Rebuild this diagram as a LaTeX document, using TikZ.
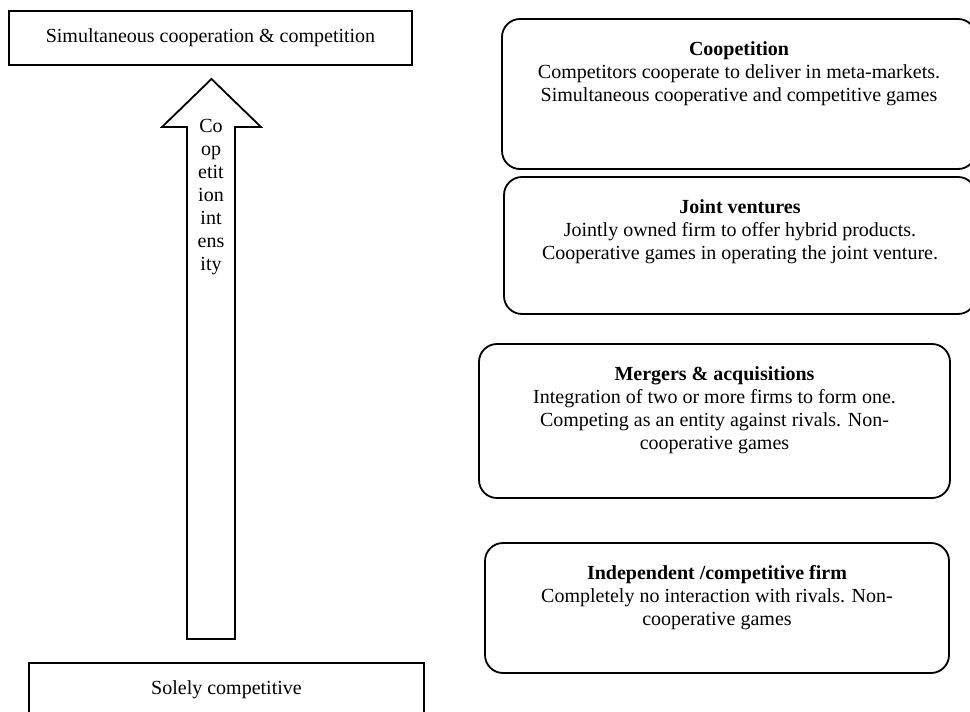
\documentclass[tikz,border=0pt]{standalone}
\usepackage{fontspec}
\setmainfont{Liberation Serif}
\usetikzlibrary{positioning}
\begin{document}
\begin{tikzpicture}[x=1pt,y=-1pt,
                    txt/.style = {align=center,inner sep=0pt,font=\fontsize{20}{23}\selectfont},
                    box/.style = {draw,line width=1.8pt,minimum height=54pt,font=\fontsize{20}{23}\selectfont},
                    rbox/.style = {draw,line width=1.8pt,rounded corners=18pt}]
                    \useasboundingbox (0,0) rectangle (970,712);

                    \node[box,minimum width=403pt] (top) at (210.5,38) {Simultaneous cooperation \& competition};
                    \node[box,minimum width=395pt] (bottom) at (226.5,690) {Solely competitive};

                    \draw[line width=1.8pt] (187,639) -- (187,127) -- (162,127) -- (211.5,79)
                        -- (261,127) -- (235,127) -- (235,639) -- cycle;
                    \node[txt,anchor=north] (arrtxt) at (211,119) {Co\\op\\etit\\ion\\int\\ens\\ity};

                    \node[rbox,minimum width=474pt,minimum height=150pt] (coop) at (739,94) {};
                    \node[rbox,minimum width=472pt,minimum height=137pt] (joint) at (740,245.5) {};
                    \node[rbox,minimum width=471pt,minimum height=154pt] (merge) at (714.5,421) {};
                    \node[rbox,minimum width=464pt,minimum height=130pt] (indep) at (717,608) {};

                    \node[txt,below=23pt of coop.north] (cooptxt) {\textbf{Coopetition}\\Competitors cooperate to deliver in meta-markets.\\Simultaneous cooperative and competitive games};
                    \node[txt,below=23pt of joint.north] (jointtxt) {\textbf{Joint ventures}\\Jointly owned firm to offer hybrid products.\\Cooperative games in operating the joint venture.};
                    \node[txt,below=23pt of merge.north] (mergetxt) {\textbf{Mergers \& acquisitions}\\Integration of two or more firms to form one.\\Competing as an entity against rivals. Non-\\cooperative games};
                    \node[txt,below=23pt of indep.north] (indeptxt) {\textbf{Independent /competitive firm}\\Completely no interaction with rivals. Non-\\cooperative games};
                \end{tikzpicture}
\end{document}
